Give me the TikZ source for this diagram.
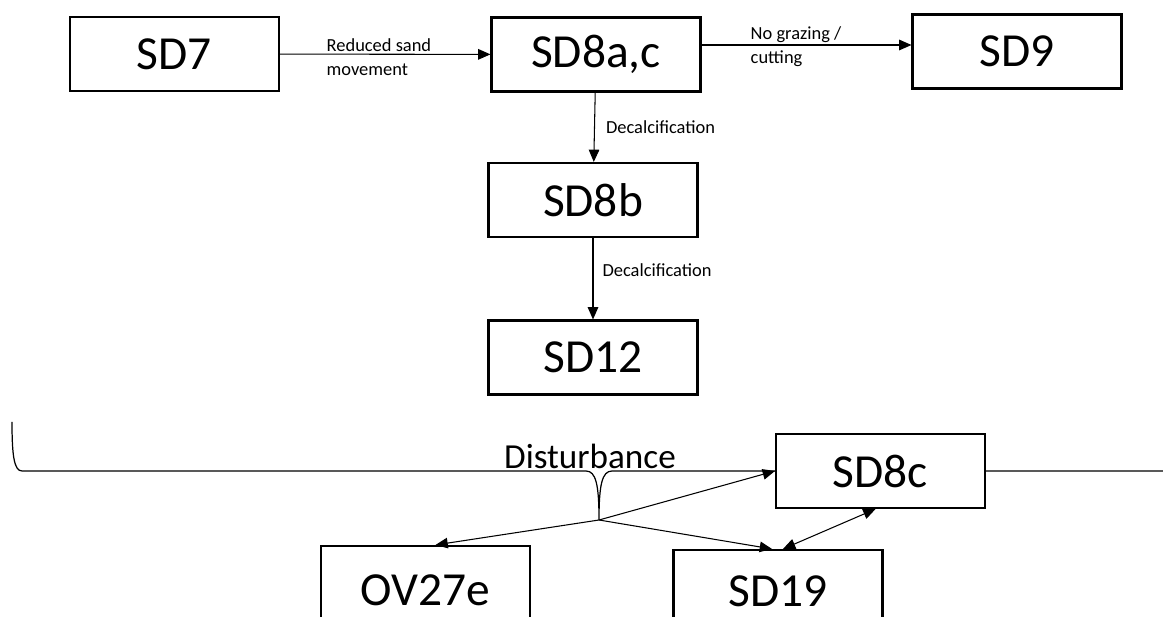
\documentclass[tikz,border=0pt]{standalone}
\usepackage{fontspec}
\setmainfont{Carlito}
\usetikzlibrary{arrows.meta}

\begin{document}
\begin{tikzpicture}[x=0.02cm, y=-0.02cm,
        >={Triangle[length=7pt,width=6pt]},
        state/.style={draw, line width=1.2pt, fill=white, minimum width=4.18cm, minimum height=1.48cm,
            font=\fontsize{27}{31}\selectfont},
        lbl/.style={font=\fontsize{10.5}{13.7}\selectfont, align=left, inner sep=0pt},
        link/.style={->, line width=0.6pt}]
        \clip (0,0) rectangle (1163,617);

        \node[state] (a) at (174.5, 54) {SD7};
        \node[state] (b) at (596, 54.5) {SD8a,c};
        \node[state] (c) at (1017, 51.5) {SD9};
        \node[state] (d) at (593, 200) {SD8b};
        \node[state] (e) at (593, 357.5) {SD12};

        \draw[link] (a) -- (b) node[lbl, pos=0.47, yshift=-0.06cm] {Reduced sand\\movement};
        \draw[link] ([yshift=0.19cm]b.east) -- ([yshift=0.19cm]b.east -| c.west)
            node[lbl, pos=0.45, yshift=-0.04cm] {No grazing /\\cutting};

        \draw[link] (b) -- (d) node[lbl, midway, right, xshift=0.22cm] {Decalcification};
        \draw[link] (d) -- (e) node[lbl, pos=0.4, right, xshift=0.18cm] {Decalcification};

        % disturbance brace
        \coordinate (t) at (599, 520);
        \draw[line width=0.7pt] (12, 422) .. controls (12, 455) and (14, 471) .. (22, 471)
            -- (586, 471) .. controls (596, 471) and (599, 485) .. (t)
            .. controls (599, 485) and (602, 471) .. (612, 471) -- (1170, 471);
        \node[font=\fontsize{20}{23}\selectfont] (f) at (590, 456) {Disturbance};

        \node[state] (g) at (880.5, 471) {SD8c};
        \node[state, minimum height=1.76cm] (h) at (425.5, 590) {OV27e};
        \node[state, minimum height=1.64cm] (i) at (778, 591) {SD19};

        \draw[link] (t) -- (g.west);
        \draw[link] (t) -- ([xshift=0.2cm]h.north);
        \draw[link] (t) -- ([xshift=-0.12cm]i.north);
        \draw[link, <->] ([xshift=-0.1cm]g.south) -- ([xshift=0.1cm]i.north);
    \end{tikzpicture}
\end{document}
